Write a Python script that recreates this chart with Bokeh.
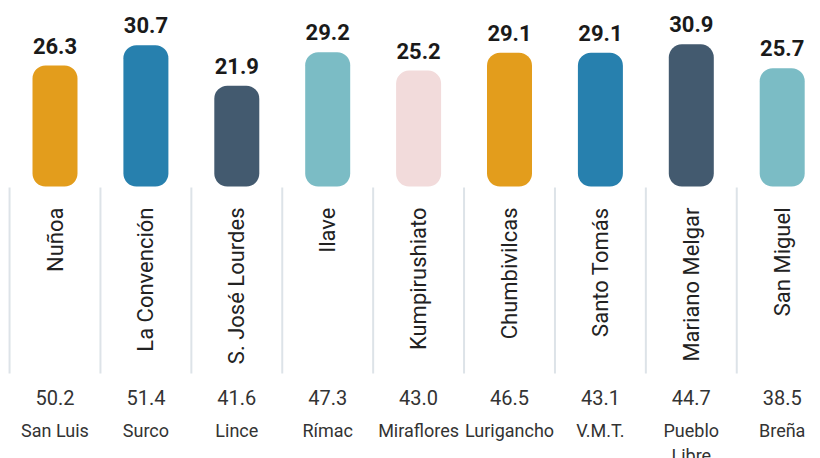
from bokeh.plotting import figure
from bokeh.models import Range1d, ColumnDataSource
from bokeh.core.properties import value
from bokeh.embed import file_html
from bokeh.resources import INLINE

# ---- data ----
categories = ["Nuñoa", "La Convención", "S. José Lourdes", "Ilave", "Kumpirushiato",
              "Chumbivilcas", "Santo Tomás", "Mariano Melgar", "San Miguel"]
top_values = [26.3, 30.7, 21.9, 29.2, 25.2, 29.1, 29.1, 30.9, 25.7]
bottom_values = [50.2, 51.4, 41.6, 47.3, 43.0, 46.5, 43.1, 44.7, 38.5]
bottom_labels = ["San Luis", "Surco", "Lince", "Rímac", "Miraflores", "Lurigancho",
                 "V.M.T.", "Pueblo\nLibre", "Breña"]
colors = ["#E39D1C", "#2780AE", "#435A6F", "#7BBCC5", "#F2DBDB",
          "#E39D1C", "#2780AE", "#435A6F", "#7BBCC5"]

# ---- layout helpers (pixel geometry) ----
W, H = 820, 458
SCALE = 4.6          # px per unit
BASE = 186.0         # y pixel of value 0
SPACING = 90.9
X0 = 54.5            # x pixel of first category
LABEL_GAP = 20       # px between bar top and value label anchor

def ypx(py):
    return (BASE - py) / SCALE

n = len(categories)
xs = list(range(n))

p = figure(width=W, height=H, output_backend="svg", toolbar_location=None,
           x_range=Range1d(-X0 / SPACING, (W - X0) / SPACING),
           y_range=Range1d(ypx(H), ypx(0)),
           min_border=0, outline_line_color=None)
p.axis.visible = False
p.grid.visible = False
p.background_fill_color = "white"
p.border_fill_color = "white"

src = ColumnDataSource(dict(
    x=xs, top=top_values, color=colors, cat=categories,
    toplab=[f"{v:.1f}" for v in top_values],
    botval=[f"{v:.1f}" for v in bottom_values],
    botlab=bottom_labels,
    sep=[i - 0.5 for i in xs],
    labtop=[v + LABEL_GAP / SCALE for v in top_values],
))

# separators
p.segment(x0="sep", x1="sep", y0=ypx(187), y1=ypx(373), source=src,
          line_color="#DDE3E8", line_width=2)

# bars
p.vbar(x="x", top="top", bottom=0, width=45 / SPACING, source=src,
       fill_color="color", line_color=None, border_radius=13)

# value labels
p.text(x="x", y="labtop", text="toplab", source=src,
       text_align="center", text_baseline="alphabetic",
       text_font=value("Roboto"), text_font_style="bold",
       text_font_size="22px", text_color="#1a1a1a")

# rotated category labels
p.text(x="x", y=ypx(207), text="cat", source=src, angle=1.5708,
       text_align="right", text_baseline="middle",
       text_font=value("Roboto"), text_font_size="22px", text_color="#222222")

# bottom values
p.text(x="x", y=ypx(397), text="botval", source=src,
       text_align="center", text_baseline="middle",
       text_font=value("Roboto"), text_font_size="20px", text_color="#333333")

# bottom labels
p.text(x="x", y=ypx(419), text="botlab", source=src,
       text_align="center", text_baseline="top", text_line_height=1.2,
       text_font=value("Roboto"), text_font_size="18px", text_color="#333333")

open("out.html", "w").write(file_html(p, INLINE))
